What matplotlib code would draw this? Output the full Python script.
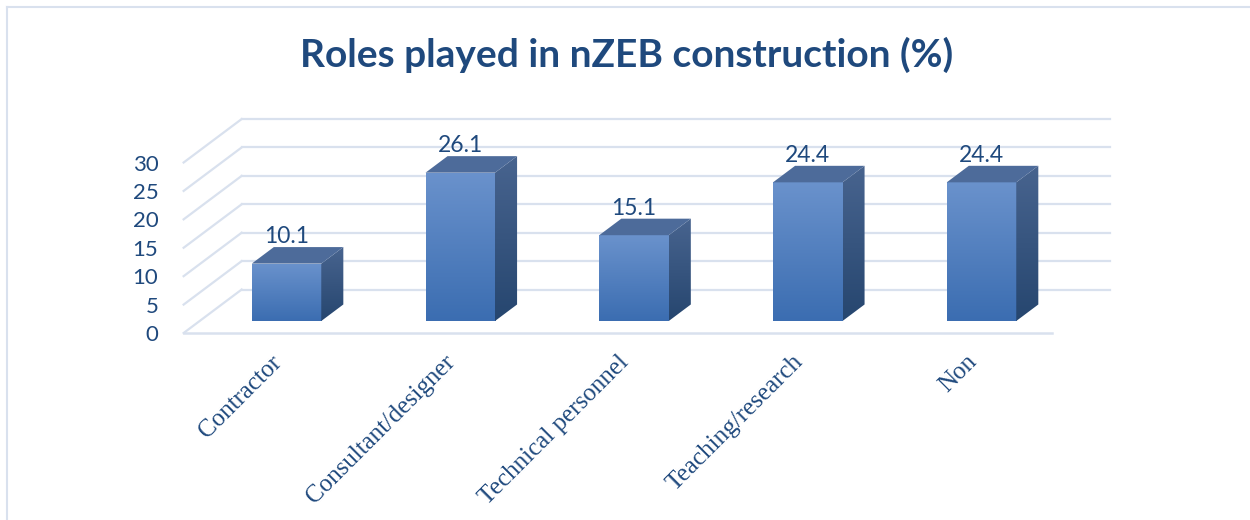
import numpy as np
import matplotlib
matplotlib.use("Agg")
import matplotlib.pyplot as plt
from matplotlib.patches import Polygon
from matplotlib.colors import LinearSegmentedColormap
from matplotlib.lines import Line2D

# data
categories = ["Contractor", "Consultant/designer", "Technical personnel",
              "Teaching/research", "Non"]
values = [10.1, 26.1, 15.1, 24.4, 24.4]
yticks = [0, 5, 10, 15, 20, 25, 30]
title = "Roles played in nZEB construction (%)"

TXT = "#1f497d"
GRID = "#d9e1ee"

# oblique projection: depth d in [0, 1] shifts right and up
DX = 0.334   # x data units for full depth
DY = 7.65    # value units for full depth
D0, D1 = 0.276, 0.656  # bar front/back depth
BW = 0.40


def proj(x, v, d):
    return x + d * DX, v + d * DY


fig = plt.figure(figsize=(12.5, 5.2), dpi=100)
W, H = 1250, 520
# axes frame: left 182 px, right 1110 px, value 0 at y=333 px, top at 115 px
ax = fig.add_axes([182 / W, (H - 333) / H, (1110 - 182) / W, (333 - 115) / H])
ax.set_xlim(-0.5094, 4.8317)
ax.set_ylim(0, 38.36)
ax.patch.set_alpha(0)
for s in ax.spines.values():
    s.set_visible(False)

# walls: back gridlines, left side diagonals, front floor edge
n = len(categories)
for v in yticks:
    xa, ya = proj(-0.5, v, 1)
    xb, yb = proj(n - 0.5, v, 1)
    ax.plot([xa, xb], [ya, yb], color=GRID, lw=1.6, zorder=1, clip_on=False)
    xc, yc = proj(-0.5, v, 0)
    ax.plot([xc, xa], [yc, ya], color=GRID, lw=1.6, zorder=1, clip_on=False)
x0, y0 = proj(-0.5, 0, 0)
x1, y1 = proj(n - 0.5, 0, 0)
ax.plot([x0, x1], [y0, y1], color=GRID, lw=1.8, zorder=1, clip_on=False)

front_cm = LinearSegmentedColormap.from_list("front", ["#3b6db1", "#6a92cc"])
side_cm = LinearSegmentedColormap.from_list("side", ["#26466f", "#48648f"])
grad = np.linspace(0, 1, 256).reshape(-1, 1)

for i, v in enumerate(values):
    fx, fy = proj(i, 0, D0)
    bars = ax.bar(fx, v, width=BW, bottom=fy, color="none", zorder=3)
    rect = bars[0]
    im = ax.imshow(grad, cmap=front_cm, origin="lower", aspect="auto",
                   extent=(fx - BW / 2, fx + BW / 2, fy, fy + v), zorder=3)
    im.set_clip_path(rect)

    # right side face
    l, r = fx - BW / 2, fx + BW / 2
    side = [proj(r - D0 * DX, 0, D0), proj(r - D0 * DX, 0, D1),
            proj(r - D0 * DX, v, D1), proj(r - D0 * DX, v, D0)]
    sp = Polygon(side, closed=True, facecolor="none", edgecolor="none", zorder=3)
    ax.add_patch(sp)
    sx = [p[0] for p in side]
    sy = [p[1] for p in side]
    im2 = ax.imshow(grad, cmap=side_cm, origin="lower", aspect="auto",
                    extent=(min(sx), max(sx), min(sy), max(sy)), zorder=3)
    im2.set_clip_path(sp)

    # top face
    top = [proj(l - D0 * DX, v, D0), proj(r - D0 * DX, v, D0),
           proj(r - D0 * DX, v, D1), proj(l - D0 * DX, v, D1)]
    ax.add_patch(Polygon(top, closed=True, facecolor="#4d6b9a",
                         edgecolor="none", zorder=4))

    lx, ly = fx, v + D1 * DY
    ax.text(lx, ly, f"{v}", ha="center", va="bottom", fontsize=16.5,
            family="Lato", color=TXT, zorder=5)

ax.set_xlim(-0.5094, 4.8317)
ax.set_ylim(0, 38.36)

ax.set_yticks(yticks)
ax.set_yticklabels([str(t) for t in yticks], family="Lato", fontsize=16,
                   color=TXT)
ax.tick_params(axis="y", length=0, pad=17)
ax.set_xticks(range(n))
ax.set_xticklabels(categories, rotation=45, ha="right",
                   rotation_mode="anchor", family="Liberation Serif",
                   fontsize=18, color=TXT)
ax.tick_params(axis="x", length=0, pad=13)

fig.text(627 / W, 1 - 55 / H, title, ha="center", va="center",
         fontsize=28, fontweight="bold", family="Lato", color=TXT)

# chart border (left and top)
fig.add_artist(Line2D([6.5 / W, 6.5 / W], [0, 1 - 7 / H], color=GRID, lw=1.5))
fig.add_artist(Line2D([6.5 / W, 1], [1 - 7 / H, 1 - 7 / H], color=GRID, lw=1.5))

fig.savefig("out.png", dpi=100)
